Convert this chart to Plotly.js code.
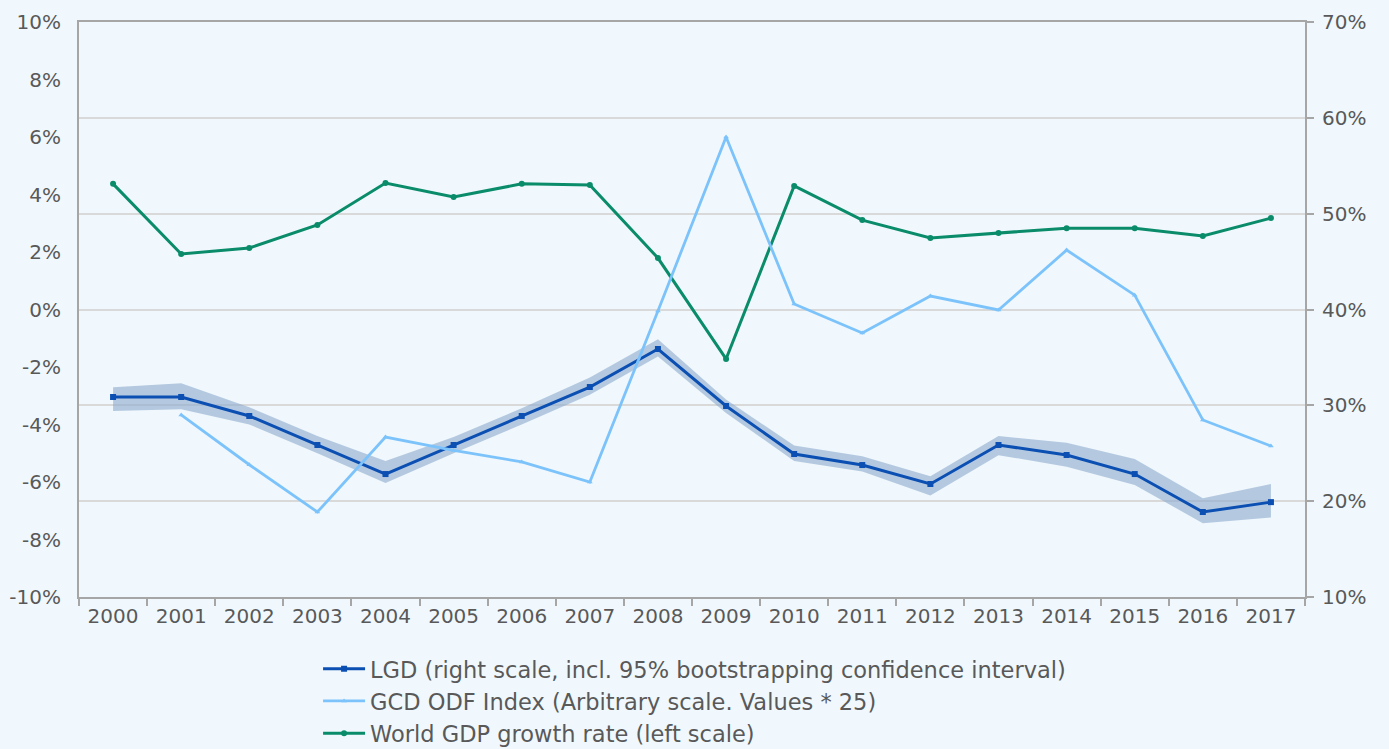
<!DOCTYPE html>
<html>
<head>
<meta charset="utf-8">
<script src="https://cdn.plot.ly/plotly-3.0.1.min.js"></script>
<style>
html,body{margin:0;padding:0;background:#f0f8fd;}
#chart{width:1389px;height:749px;}
</style>
</head>
<body>
<div id="chart"></div>
<script>
const years = ["2000","2001","2002","2003","2004","2005","2006","2007","2008","2009","2010","2011","2012","2013","2014","2015","2016","2017"];
const gdpGrowth = [4.37,1.93,2.14,2.94,4.40,3.91,4.37,4.33,1.79,-1.72,4.30,3.11,2.49,2.66,2.83,2.83,2.56,3.18];
const lgd = [30.87,30.87,28.89,25.86,22.83,25.86,28.89,31.91,35.88,29.93,24.92,23.77,21.79,25.86,24.82,22.83,18.87,19.90];
const lgdUpper = [31.9,32.3,29.8,26.8,24.2,26.7,29.7,32.9,36.9,30.6,25.8,24.7,22.6,26.8,26.1,24.4,20.3,21.8];
const lgdLower = [29.4,29.6,28.0,25.0,21.9,25.0,28.0,31.1,35.1,29.2,24.2,23.1,20.6,24.8,23.6,21.7,17.7,18.3];
const gcdYears = ["2001","2002","2003","2004","2005","2006","2007","2008","2009","2010","2011","2012","2013","2014","2015","2016","2017"];
const gcdOdf = [29.0,23.8,18.87,26.69,25.3,24.1,22.0,39.84,58.0,40.57,37.55,41.4,39.95,46.2,41.5,28.47,25.76];
const leftTicks = [-10,-8,-6,-4,-2,0,2,4,6,8,10];
const rightTicks = [10,20,30,40,50,60,70];

const FONT = "DejaVu Sans, sans-serif";
const TXT = "#595959";

const traces = [
  {x: years, y: lgdLower, yaxis: "y2", type: "scatter", mode: "lines",
   line: {width: 0, color: "rgba(0,0,0,0)"}, showlegend: false, hoverinfo: "skip"},
  {x: years, y: lgdUpper, yaxis: "y2", type: "scatter", mode: "lines",
   line: {width: 0, color: "rgba(0,0,0,0)"}, fill: "tonexty",
   fillcolor: "rgba(140,170,205,0.6)", showlegend: false, hoverinfo: "skip"},
  {x: years, y: lgd, yaxis: "y2", type: "scatter", mode: "lines+markers",
   name: "LGD (right scale, incl. 95% bootstrapping confidence interval)",
   line: {color: "#0b4fb3", width: 3}, marker: {symbol: "square", size: 6, color: "#0b4fb3"}},
  {x: gcdYears, y: gcdOdf, yaxis: "y2", type: "scatter", mode: "lines+markers",
   name: "GCD ODF Index (Arbitrary scale. Values * 25)",
   line: {color: "#7cc3fb", width: 2.8}, marker: {symbol: "triangle-up", size: 5, color: "#7cc3fb"}},
  {x: years, y: gdpGrowth, yaxis: "y", type: "scatter", mode: "lines+markers",
   name: "World GDP growth rate (left scale)",
   line: {color: "#0a8c6a", width: 3}, marker: {symbol: "circle", size: 6, color: "#0a8c6a"}}
];

const layout = {
  width: 1389, height: 749,
  paper_bgcolor: "#f0f8fd", plot_bgcolor: "#f0f8fd",
  margin: {l: 79, r: 84, t: 22, b: 152, autoexpand: false},
  font: {family: FONT, size: 20, color: TXT},
  showlegend: true,
  legend: {x: 0.195, xanchor: "left", y: -0.088, yanchor: "top",
           orientation: "v", bgcolor: "rgba(0,0,0,0)", traceorder: "normal",
           itemwidth: 42,
           font: {family: FONT, size: 22.5, color: TXT}, tracegroupgap: 0},
  xaxis: {type: "category", categoryorder: "array", categoryarray: years,
          tickson: "boundaries", ticks: "outside", ticklen: 7, tickcolor: "#a6a6a6", tickwidth: 2,
          showline: true, linecolor: "#a6a6a6", linewidth: 2, mirror: true,
          showgrid: false, zeroline: false, range: [-0.5, 17.5],
          tickfont: {family: FONT, size: 20, color: TXT}},
  yaxis: {range: [-10, 10], tickvals: leftTicks, ticktext: leftTicks.map(v => v + "%"),
          showgrid: false, zeroline: false, showline: true, linecolor: "#a6a6a6", linewidth: 2,
          ticks: "", ticklabelstandoff: 12,
          tickfont: {family: FONT, size: 20, color: TXT}},
  yaxis2: {range: [10, 70], tickvals: rightTicks, ticktext: rightTicks.map(v => v + "%"),
           overlaying: "y", side: "right", showgrid: true, gridcolor: "#d9d9d9", gridwidth: 2,
           zeroline: false, showline: true, linecolor: "#a6a6a6", linewidth: 2,
           ticks: "outside", ticklen: 7, tickcolor: "#a6a6a6", tickwidth: 2, ticklabelstandoff: 4,
           tickfont: {family: FONT, size: 20, color: TXT}}
};

Plotly.newPlot("chart", traces, layout, {displayModeBar: false, staticPlot: true});
</script>
</body>
</html>
